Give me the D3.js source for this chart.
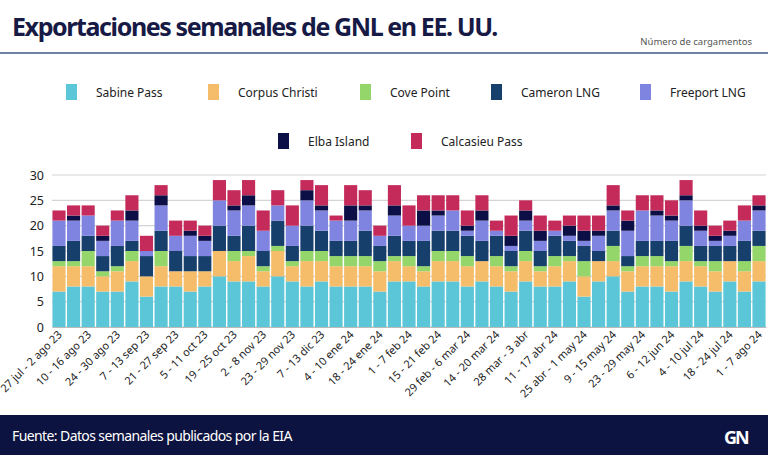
<!DOCTYPE html>
<html><head><meta charset="utf-8">
<script src="https://cdn.jsdelivr.net/npm/d3@7"></script>
<style>body{margin:0;background:#fff}svg{display:block}text{font-family:"Noto Sans",sans-serif}</style>
</head><body><svg id="c" width="768" height="455"></svg>
<script>
const weeks=["27 jul - 2 ago 23","3 - 9 ago 23","10 - 16 ago 23","17 - 23 ago 23","24 - 30 ago 23","31 ago - 6 sep 23","7 - 13 sep 23","14 - 20 sep 23","21 - 27 sep 23","28 sep - 4 oct 23","5 - 11 oct 23","12 - 18 oct 23","19 - 25 oct 23","26 oct - 1 nov 23","2 - 8 nov 23","9 - 15 nov 23","23 - 29 nov 23","30 nov - 6 dic 23","7 - 13 dic 23","14 - 20 dic 23","4 - 10 ene 24","11 - 17 ene 24","18 - 24 ene 24","25 - 31 ene 24","1 - 7 feb 24","8 - 14 feb 24","15 - 21 feb 24","22 - 28 feb 24","29 feb - 6 mar 24","7 - 13 mar 24","14 - 20 mar 24","21 - 27 mar 24","28 mar - 3 abr","4 - 10 abr 24","11 - 17 abr 24","18 - 24 abr 24","25 abr - 1 may 24","2 - 8 may 24","9 - 15 may 24","16 - 22 may 24","23 - 29 may 24","30 may - 5 jun 24","6 - 12 jun 24","13 - 19 jun 24","4 - 10 jul 24","11 - 17 jul 24","18 - 24 jul 24","25 - 31 jul 24","1 - 7 ago 24"];
const terminals=["Sabine Pass","Corpus Christi","Cove Point","Cameron LNG","Freeport LNG","Elba Island","Calcasieu Pass"];
const sabine   =[7,8,8,7,7,9,6,8,8,7,8,10,9,9,8,10,9,8,9,8,8,8,7,9,9,8,9,9,8,9,8,7,9,8,8,9,6,9,10,7,8,8,7,9,8,7,9,7,9];
const corpus   =[5,4,4,3,4,4,4,4,3,4,3,5,4,5,3,5,3,5,4,4,4,4,4,4,3,3,4,4,4,4,4,4,4,3,4,4,4,4,3,4,4,4,5,4,4,4,4,4,4];
const cove     =[1,1,3,1,1,2,0,3,0,0,0,0,2,1,1,1,1,2,2,2,2,2,2,1,2,1,2,2,2,0,2,1,2,1,2,1,3,0,3,1,2,2,1,3,1,2,0,2,3];
const cameron  =[3,4,3,3,4,2,4,4,4,3,3,5,3,5,3,5,3,5,4,3,3,5,3,4,3,5,4,4,4,4,4,3,4,3,4,3,3,2,3,2,3,3,4,4,3,3,3,4,3];
const freeport =[5,4,4,3,5,4,1,5,3,4,3,5,5,4,4,3,4,5,4,4,4,4,2,4,3,3,3,4,1,4,1,1,2,2,1,1,1,3,4,5,6,5,4,5,3,1,2,4,4];
const elba     =[0,1,0,1,0,2,0,2,0,1,1,0,1,2,0,0,0,2,1,0,3,1,0,2,0,3,1,0,1,2,0,2,2,2,0,2,2,1,1,2,0,1,1,1,1,1,1,0,1];
const calcasieu=[2,2,2,2,2,3,3,2,3,2,2,4,3,3,4,3,4,2,4,1,4,3,2,4,4,3,3,3,3,3,2,4,2,3,2,2,3,3,4,2,3,3,3,3,3,2,2,3,2];
const yTicks=[0,5,10,15,20,25,30];
const colors=["#5bc6d7","#f5bd6a","#95d66b","#173f6b","#7f84e0","#0c0f45","#c42b5b"];
</script>
<script>
const series=[sabine,corpus,cove,cameron,freeport,elba,calcasieu];
const rows=weeks.map((w,i)=>{const r={week:w};terminals.forEach((t,j)=>r[t]=series[j][i]);return r;});
const stack=d3.stack().keys(terminals)(rows);
const svg=d3.select("#c");
const x=d3.scaleBand().domain(weeks).range([52,766]).paddingInner(0.1).paddingOuter(0.03);
const y=d3.scaleLinear().domain([0,30]).range([327,175]);
svg.append("text").attr("x",12).attr("y",36).attr("font-size",25).attr("font-weight",700).attr("letter-spacing",-1.4).attr("fill","#161a45").text("Exportaciones semanales de GNL en EE. UU.");
svg.append("text").attr("x",752).attr("y",45).attr("text-anchor","end").attr("font-size",9.5).attr("fill","#555").text("Número de cargamentos");
svg.append("line").attr("x1",0).attr("x2",768).attr("y1",53).attr("y2",53).attr("stroke","#3d5a86").attr("stroke-width",1.5);
const leg=[[66,92],[208,92],[360,92],[491,92],[640,92],[278,141],[411,141]];
terminals.forEach((t,i)=>{
  const g=svg.append("g").attr("transform",`translate(${leg[i][0]},${leg[i][1]})`);
  g.append("rect").attr("x",0).attr("y",-8).attr("width",11).attr("height",16).attr("fill",colors[i]);
  g.append("text").attr("x",30).attr("y",4.5).attr("font-size",12).attr("fill","#222").text(t);
});
svg.append("g").selectAll("line").data(yTicks).join("line").attr("x1",52).attr("x2",766).attr("y1",d=>y(d)).attr("y2",d=>y(d)).attr("stroke","#d4d4d4").attr("stroke-width",1.2);
svg.append("g").selectAll("text").data(yTicks).join("text").attr("x",44).attr("y",d=>y(d)+4.5).attr("text-anchor","end").attr("font-size",12.5).attr("fill","#222").text(d=>d);
svg.append("g").selectAll("g").data(stack).join("g").attr("fill",(d,i)=>colors[i])
 .selectAll("rect").data(d=>d).join("rect").attr("x",d=>x(d.data.week)).attr("width",x.bandwidth())
 .attr("y",d=>y(d[1])).attr("height",d=>y(d[0])-y(d[1]));
const xa=svg.append("g").attr("transform","translate(0,327)").call(d3.axisBottom(x).tickSize(0).tickValues(weeks.filter((w,i)=>i%2===0)));
xa.select(".domain").attr("stroke","#bbb");
xa.selectAll("text").attr("font-size",11).attr("fill","#222").attr("font-family","Noto Sans").attr("text-anchor","end")
 .attr("transform","rotate(-45)").attr("dx","-0.3em").attr("dy","0.5em");
svg.append("rect").attr("x",0).attr("y",415).attr("width",768).attr("height",40).attr("fill","#0d1340");
svg.append("text").attr("x",12).attr("y",441).attr("font-size",14).attr("letter-spacing",-0.6).attr("fill","#fff").text("Fuente: Datos semanales publicados por la EIA");
svg.append("text").attr("x",724).attr("y",444).attr("font-size",18).attr("font-weight",700).attr("letter-spacing",-2).attr("fill","#fff").text("GN");
</script></body></html>
